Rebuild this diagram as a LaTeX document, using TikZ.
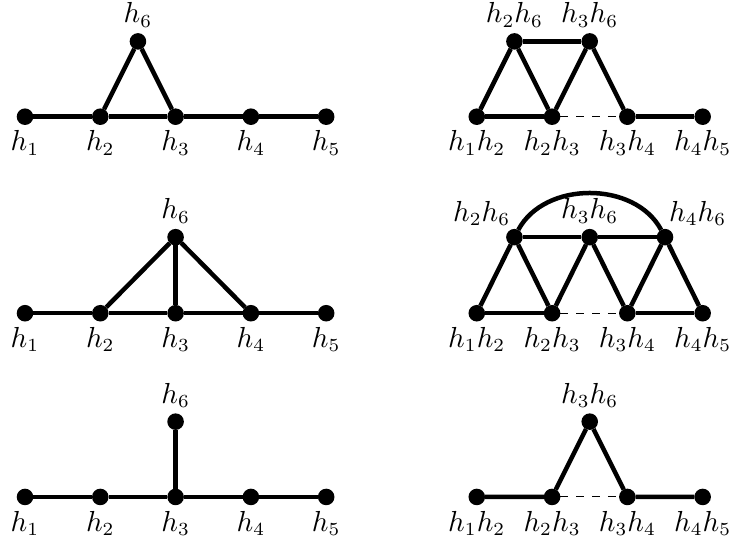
\documentclass[tikz,border=0pt]{standalone}
\usetikzlibrary{positioning}
\tikzset{
	vertex/.style={circle, fill=black, inner sep=0pt, outer sep=0pt, minimum size=0.22cm},
	edge/.style={line width=1.7pt, draw=black},
	missing/.style={thin, dashed, draw=black},
	every label/.style={font=\fontsize{10.5}{12}\selectfont, inner sep=2pt},
}
\begin{document}
\begin{tikzpicture}
	\useasboundingbox (-0.332,1.55) rectangle (9.363,-5.62);
	% path with a triangle
	\node[vertex, label=below:$h_1$] (a1) at (0,0) {};
	\node[vertex, label=below:$h_2$] (a2) at (1,0) {};
	\node[vertex, label=below:$h_3$] (a3) at (2,0) {};
	\node[vertex, label=below:$h_4$] (a4) at (3,0) {};
	\node[vertex, label=below:$h_5$] (a5) at (4,0) {};
	\node[vertex, label=above:$h_6$] (a6) at (1.5,1) {};
	\draw[edge] (a1) -- (a2) -- (a3) -- (a4) -- (a5);
	\draw[edge] (a2) -- (a6) -- (a3);
	% line graph of it
	\node[vertex, label=below:$h_1h_2$] (la12) at (6,0) {};
	\node[vertex, label=below:$h_2h_3$] (la23) at (7,0) {};
	\node[vertex, label=below:$h_3h_4$] (la34) at (8,0) {};
	\node[vertex, label=below:$h_4h_5$] (la45) at (9,0) {};
	\node[vertex, label=above:$h_2h_6$] (la26) at (6.5,1) {};
	\node[vertex, label=above:$h_3h_6$] (la36) at (7.5,1) {};
	\draw[edge] (la12) -- (la23);
	\draw[edge] (la34) -- (la45);
	\draw[edge] (la12) -- (la26) -- (la23) -- (la36) -- (la34);
	\draw[edge] (la26) -- (la36);
	\draw[missing] (la23) -- (la34);
	% path with a fan
	\node[vertex, label=below:$h_1$] (b1) at (0,-2.61) {};
	\node[vertex, label=below:$h_2$] (b2) at (1,-2.61) {};
	\node[vertex, label=below:$h_3$] (b3) at (2,-2.61) {};
	\node[vertex, label=below:$h_4$] (b4) at (3,-2.61) {};
	\node[vertex, label=below:$h_5$] (b5) at (4,-2.61) {};
	\node[vertex, label=above:$h_6$] (b6) at (2,-1.6) {};
	\draw[edge] (b1) -- (b2) -- (b3) -- (b4) -- (b5);
	\draw[edge] (b2) -- (b6) -- (b4);
	\draw[edge] (b6) -- (b3);
	% line graph of it
	\node[vertex, label=below:$h_1h_2$] (lb12) at (6,-2.61) {};
	\node[vertex, label=below:$h_2h_3$] (lb23) at (7,-2.61) {};
	\node[vertex, label=below:$h_3h_4$] (lb34) at (8,-2.61) {};
	\node[vertex, label=below:$h_4h_5$] (lb45) at (9,-2.61) {};
	\node[vertex, label={[xshift=0.1cm]above left:$h_2h_6$}] (lb26) at (6.5,-1.6) {};
	\node[vertex, label=above:$h_3h_6$] (lb36) at (7.5,-1.6) {};
	\node[vertex, label={[xshift=-0.1cm]above right:$h_4h_6$}] (lb46) at (8.5,-1.6) {};
	\draw[edge] (lb12) -- (lb23);
	\draw[edge] (lb34) -- (lb45);
	\draw[edge] (lb12) -- (lb26) -- (lb23) -- (lb36) -- (lb34) -- (lb46) -- (lb45);
	\draw[edge] (lb26) -- (lb36) -- (lb46);
	\draw[edge] (lb26) to[out=62, in=118, looseness=1] (lb46);
	\draw[missing] (lb23) -- (lb34);
	% path with a pendant
	\node[vertex, label=below:$h_1$] (c1) at (0,-5.05) {};
	\node[vertex, label=below:$h_2$] (c2) at (1,-5.05) {};
	\node[vertex, label=below:$h_3$] (c3) at (2,-5.05) {};
	\node[vertex, label=below:$h_4$] (c4) at (3,-5.05) {};
	\node[vertex, label=below:$h_5$] (c5) at (4,-5.05) {};
	\node[vertex, label=above:$h_6$] (c6) at (2,-4.05) {};
	\draw[edge] (c1) -- (c2) -- (c3) -- (c4) -- (c5);
	\draw[edge] (c3) -- (c6);
	% line graph of it
	\node[vertex, label=below:$h_1h_2$] (lc12) at (6,-5.05) {};
	\node[vertex, label=below:$h_2h_3$] (lc23) at (7,-5.05) {};
	\node[vertex, label=below:$h_3h_4$] (lc34) at (8,-5.05) {};
	\node[vertex, label=below:$h_4h_5$] (lc45) at (9,-5.05) {};
	\node[vertex, label=above:$h_3h_6$] (lc36) at (7.5,-4.05) {};
	\draw[edge] (lc12) -- (lc23) -- (lc36) -- (lc34) -- (lc45);
	\draw[missing] (lc23) -- (lc34);
\end{tikzpicture}
\end{document}
